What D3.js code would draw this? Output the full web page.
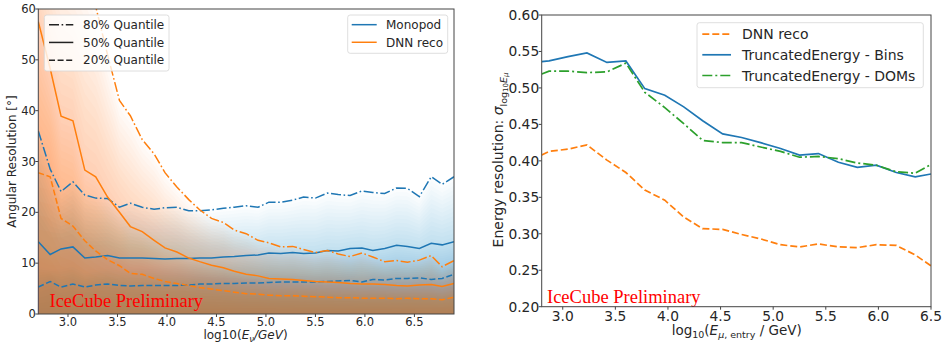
<!DOCTYPE html>
<html>
<head>
<meta charset="utf-8">
<script src="https://cdn.jsdelivr.net/npm/d3@7"></script>
<style>
  body { margin: 0; background: #fff; }
  svg { display: block; font-family: "DejaVu Sans", sans-serif; }
</style>
</head>
<body>
<svg id="chart" width="947" height="345"></svg>
<script>
// ---- left panel: angular resolution quantiles ----
const energyBins = [2.70, 2.82, 2.93, 3.05, 3.17, 3.28, 3.40, 3.52, 3.63, 3.75, 3.87, 3.98, 4.10,
  4.22, 4.33, 4.45, 4.57, 4.68, 4.80, 4.92, 5.03, 5.15, 5.27, 5.38, 5.50, 5.62, 5.73, 5.85,
  5.97, 6.08, 6.20, 6.32, 6.43, 6.55, 6.67, 6.78, 6.90];

const monopod20 = [5.3, 6.4, 5.3, 5.9, 5.3, 5.7, 5.9, 5.6, 5.5, 5.6, 5.6, 5.6, 5.6, 5.7, 5.9,
  5.9, 6.0, 6.0, 6.1, 6.1, 6.2, 6.3, 6.3, 6.3, 6.3, 6.4, 6.5, 6.6, 6.3, 6.8, 6.7, 7.0, 7.0,
  7.1, 6.8, 7.0, 7.8];
const monopod50 = [14.2, 11.7, 12.8, 13.2, 11.0, 11.2, 11.5, 11.0, 11.0, 11.0, 10.9, 10.8, 10.9,
  10.9, 11.0, 11.0, 11.2, 11.3, 11.5, 11.6, 12.0, 11.9, 12.1, 11.9, 12.0, 12.5, 12.4, 12.9,
  13.0, 12.5, 12.9, 13.5, 13.3, 12.9, 13.9, 13.6, 14.2];
const monopod80 = [36.0, 28.5, 24.1, 26.0, 23.4, 22.8, 22.7, 21.0, 21.8, 21.0, 20.6, 20.9, 21.0,
  20.3, 20.3, 20.5, 20.8, 21.0, 21.3, 21.0, 22.0, 22.0, 22.4, 23.0, 22.8, 23.8, 23.5, 23.3,
  24.2, 23.9, 23.7, 24.8, 24.7, 23.1, 27.0, 25.5, 27.0];

const dnn20 = [27.8, 27.0, 18.8, 17.3, 14.4, 12.4, 10.7, 9.5, 8.0, 7.8, 7.0, 6.4, 6.0, 5.6, 5.2,
  4.9, 4.6, 4.3, 4.0, 3.9, 3.7, 3.6, 3.6, 3.5, 3.4, 3.3, 3.2, 3.2, 3.1, 3.1, 3.1, 3.0, 3.1,
  3.0, 3.0, 2.8, 3.3];
const dnn50 = [57.5, 48.3, 38.9, 38.0, 28.3, 27.0, 23.0, 20.0, 17.2, 16.2, 14.5, 13.0, 12.2,
  11.0, 10.3, 9.6, 9.1, 8.4, 7.8, 7.5, 7.0, 6.9, 6.8, 6.6, 6.4, 6.3, 6.2, 6.0, 5.9, 5.9, 5.8,
  5.6, 5.5, 5.7, 5.8, 5.4, 6.0];
const dnn80 = [78, 75, 72, 69, 66, 60.5, 51.0, 42.0, 39.0, 34.3, 31.5, 27.8, 25.0, 22.5, 20.5,
  18.8, 18.0, 16.5, 15.8, 14.5, 14.0, 13.2, 13.3, 12.7, 12.1, 12.5, 11.8, 11.3, 12.0, 11.2,
  10.3, 10.5, 10.2, 10.6, 11.5, 9.3, 10.5];

const leftXTicks = [3.0, 3.5, 4.0, 4.5, 5.0, 5.5, 6.0, 6.5];
const leftYTicks = [0, 10, 20, 30, 40, 50, 60];

// ---- right panel: energy resolution ----
const muonBins = [2.80, 2.87, 3.05, 3.23, 3.42, 3.60, 3.78, 3.97, 4.15, 4.33, 4.52, 4.70, 4.88,
  5.07, 5.25, 5.43, 5.62, 5.80, 5.98, 6.17, 6.35, 6.50];
const dnnReco = [0.408, 0.413, 0.416, 0.422, 0.401, 0.384, 0.360, 0.346, 0.323, 0.307, 0.306,
  0.299, 0.293, 0.285, 0.282, 0.286, 0.282, 0.281, 0.285, 0.284, 0.271, 0.256];
const truncBins = [0.536, 0.537, 0.543, 0.548, 0.535, 0.537, 0.499, 0.490, 0.474, 0.455, 0.437,
  0.432, 0.425, 0.417, 0.408, 0.410, 0.398, 0.391, 0.394, 0.384, 0.378, 0.382];
const truncDoms = [0.519, 0.523, 0.523, 0.521, 0.522, 0.534, 0.494, 0.473, 0.451, 0.428, 0.425,
  0.425, 0.419, 0.413, 0.405, 0.406, 0.403, 0.397, 0.394, 0.385, 0.383, 0.395];

const rightXTicks = [3.0, 3.5, 4.0, 4.5, 5.0, 5.5, 6.0, 6.5];
const rightYTicks = [0.20, 0.25, 0.30, 0.35, 0.40, 0.45, 0.50, 0.55, 0.60];

const BLUE = "#1f77b4", ORANGE = "#ff7f0e", GREEN = "#2ca02c";
const TEXT = "#262626";
const DASH = "6,2.6", DASHDOT = "10,2.6,1.6,2.6";

const svg = d3.select("#chart");

// axes frame + ticks, like matplotlib
function drawAxes(g, x, y, xTicks, yTicks, yFmt, fontSize, labelY) {
  const [x0, x1] = x.range(), [y0, y1] = y.range();
  const ax = g.append("g").attr("fill", TEXT).attr("font-size", fontSize);
  xTicks.forEach(t => {
    ax.append("line").attr("x1", x(t)).attr("x2", x(t)).attr("y1", y0).attr("y2", y0 + 3)
      .attr("stroke", "#444");
    ax.append("text").attr("x", x(t)).attr("y", labelY)
      .attr("text-anchor", "middle").text(t.toFixed(1));
  });
  yTicks.forEach(t => {
    ax.append("line").attr("x1", x0 - 3).attr("x2", x0).attr("y1", y(t)).attr("y2", y(t))
      .attr("stroke", "#444");
    ax.append("text").attr("x", x0 - 2.5).attr("y", y(t)).attr("dy", "0.36em")
      .attr("text-anchor", "end").text(yFmt(t));
  });
  g.append("rect").attr("x", x0).attr("y", y1).attr("width", x1 - x0).attr("height", y0 - y1)
    .attr("fill", "none").attr("stroke", "#444").attr("stroke-width", 1);
}

function clipFor(id, x, y) {
  svg.append("defs").append("clipPath").attr("id", id).append("rect")
    .attr("x", x.range()[0]).attr("y", y.range()[1])
    .attr("width", x.range()[1] - x.range()[0]).attr("height", y.range()[0] - y.range()[1]);
}

// ================= LEFT =================
const lx = d3.scaleLinear([2.7, 6.9], [38.3, 454]);
const ly = d3.scaleLinear([0, 60], [314, 9]);
clipFor("clipL", lx, ly);
const left = svg.append("g");
const leftPlot = left.append("g").attr("clip-path", "url(#clipL)");

// shaded quantile band: many thin fills from 0 up to a level between the quantile lines
function shade(q20, q50, q80, color, a) {
  const N = 40;
  const g = leftPlot.append("g").attr("fill", color).attr("fill-opacity", a);
  for (let k = 1; k <= N; k++) {
    const u = 0.8 * k / N;
    const top = i => {
      if (u <= 0.2) return q20[i] * u / 0.2;
      if (u <= 0.5) return q20[i] + (q50[i] - q20[i]) * (u - 0.2) / 0.3;
      return q50[i] + (q80[i] - q50[i]) * (u - 0.5) / 0.3;
    };
    const area = d3.area().x((d, i) => lx(d)).y0(ly(0)).y1((d, i) => ly(top(i)));
    g.append("path").attr("d", area(energyBins));
  }
}
shade(monopod20, monopod50, monopod80, BLUE, 0.016);
shade(dnn20, dnn50, dnn80, ORANGE, 0.02);

const lineL = vals => d3.line().x(d => lx(d)).y((d, i) => ly(vals[i]))(energyBins);
[[monopod80, BLUE, DASHDOT], [monopod50, BLUE, null], [monopod20, BLUE, DASH],
 [dnn80, ORANGE, DASHDOT], [dnn50, ORANGE, null], [dnn20, ORANGE, DASH]].forEach(([v, c, d]) => {
  leftPlot.append("path").attr("d", lineL(v)).attr("fill", "none").attr("stroke", c)
    .attr("stroke-width", 1.5).attr("stroke-dasharray", d);
});

left.append("text").attr("x", 49.5).attr("y", 307).attr("fill", "red")
  .attr("font-family", "Liberation Serif, Times New Roman, serif").attr("font-size", 18.5)
  .text("IceCube Preliminary");

drawAxes(left, lx, ly, leftXTicks, leftYTicks, t => t, 11.5, 326);

left.append("text").attr("transform", "translate(16,161.5) rotate(-90)").attr("text-anchor", "middle")
  .attr("font-size", 12).attr("fill", TEXT).text("Angular Resolution [°]");

const lxl = left.append("text").attr("x", 245.5).attr("y", 339).attr("text-anchor", "middle")
  .attr("font-size", 12).attr("fill", TEXT);
lxl.append("tspan").text("log10(");
lxl.append("tspan").attr("font-style", "italic").text("E");
lxl.append("tspan").attr("font-style", "italic").attr("font-size", 8.5).attr("dy", 2.5).text("ν");
lxl.append("tspan").attr("font-style", "italic").attr("dy", -2.5).text("/GeV");
lxl.append("tspan").text(")");

function legend(g, x, y, w, h, items, fontSize, rowH, hx0, hx1, tx) {
  g.append("rect").attr("x", x).attr("y", y).attr("width", w).attr("height", h)
    .attr("rx", 2.5).attr("fill", "#fff").attr("fill-opacity", 0.8)
    .attr("stroke", "#d6d6d6").attr("stroke-width", 0.8);
  items.forEach((it, i) => {
    const yy = y + rowH * 0.55 + i * rowH;
    g.append("line").attr("x1", x + hx0).attr("x2", x + hx1).attr("y1", yy).attr("y2", yy)
      .attr("stroke", it.color).attr("stroke-width", it.width).attr("stroke-dasharray", it.dash);
    g.append("text").attr("x", x + tx).attr("y", yy).attr("dy", "0.36em")
      .attr("font-size", fontSize).attr("fill", TEXT).text(it.label);
  });
}

const styleLabels = ["80% Quantile", "50% Quantile", "20% Quantile"];
const styleDashes = [DASHDOT, null, DASH];
legend(left, 44.3, 15, 124.7, 56, styleLabels.map((l, i) => ({label: l, color: "#222", width: 1.5, dash: styleDashes[i]})),
  12, 17.7, 4.7, 29, 38.7);

const recoLabels = ["Monopod", "DNN reco"];
legend(left, 347.7, 15, 100, 38.3, recoLabels.map((l, i) => ({label: l, color: [BLUE, ORANGE][i], width: 1.5, dash: null})),
  12, 17.6, 4, 29, 38.3);

// ================= RIGHT =================
const rx = d3.scaleLinear([2.8, 6.5], [541.7, 931]);
const ry = d3.scaleLinear([0.2, 0.6], [306.7, 15]);
clipFor("clipR", rx, ry);
const right = svg.append("g");
const rightPlot = right.append("g").attr("clip-path", "url(#clipR)");

const lineR = vals => d3.line().x(d => rx(d)).y((d, i) => ry(vals[i]))(muonBins);
[[dnnReco, ORANGE, "7,3"], [truncBins, BLUE, null], [truncDoms, GREEN, "10,3,2,3"]].forEach(([v, c, d]) => {
  rightPlot.append("path").attr("d", lineR(v)).attr("fill", "none").attr("stroke", c)
    .attr("stroke-width", 1.7).attr("stroke-dasharray", d);
});

right.append("text").attr("x", 547).attr("y", 302.5).attr("fill", "red")
  .attr("font-family", "Liberation Serif, Times New Roman, serif").attr("font-size", 18.5)
  .text("IceCube Preliminary");

drawAxes(right, rx, ry, rightXTicks, rightYTicks, t => t.toFixed(2), 13.8, 320.5);

const ryl = right.append("text").attr("transform", "translate(503,160) rotate(-90)")
  .attr("text-anchor", "middle").attr("font-size", 14).attr("fill", TEXT);
ryl.append("tspan").text("Energy resolution: ");
ryl.append("tspan").attr("font-style", "italic").text("σ");
ryl.append("tspan").attr("font-size", 9.5).attr("dy", 3.5).text("log");
ryl.append("tspan").attr("font-size", 7).attr("dy", 1.5).text("10");
ryl.append("tspan").attr("font-size", 9.5).attr("font-style", "italic").attr("dy", -1.5).text("E");
ryl.append("tspan").attr("font-size", 7).attr("font-style", "italic").attr("dy", 1.5).text("μ");

const rxl = right.append("text").attr("x", 736.7).attr("y", 335).attr("text-anchor", "middle")
  .attr("font-size", 13.5).attr("fill", TEXT);
rxl.append("tspan").text("log");
rxl.append("tspan").attr("font-size", 9.5).attr("dy", 3).text("10");
rxl.append("tspan").attr("dy", -3).text("(");
rxl.append("tspan").attr("font-style", "italic").text("E");
rxl.append("tspan").attr("font-style", "italic").attr("font-size", 9.5).attr("dy", 3).text("μ");
rxl.append("tspan").attr("font-size", 9.5).text(", entry");
rxl.append("tspan").attr("dy", -3).text(" / GeV)");

const energyLabels = ["DNN reco", "TruncatedEnergy - Bins", "TruncatedEnergy - DOMs"];
legend(right, 697, 22.7, 226.3, 65, energyLabels.map((l, i) => ({label: l,
  color: [ORANGE, BLUE, GREEN][i], width: 1.7, dash: ["7,3", null, "10,3,2,3"][i]})),
  14, 20.7, 5.3, 34, 45);
</script>
</body>
</html>
